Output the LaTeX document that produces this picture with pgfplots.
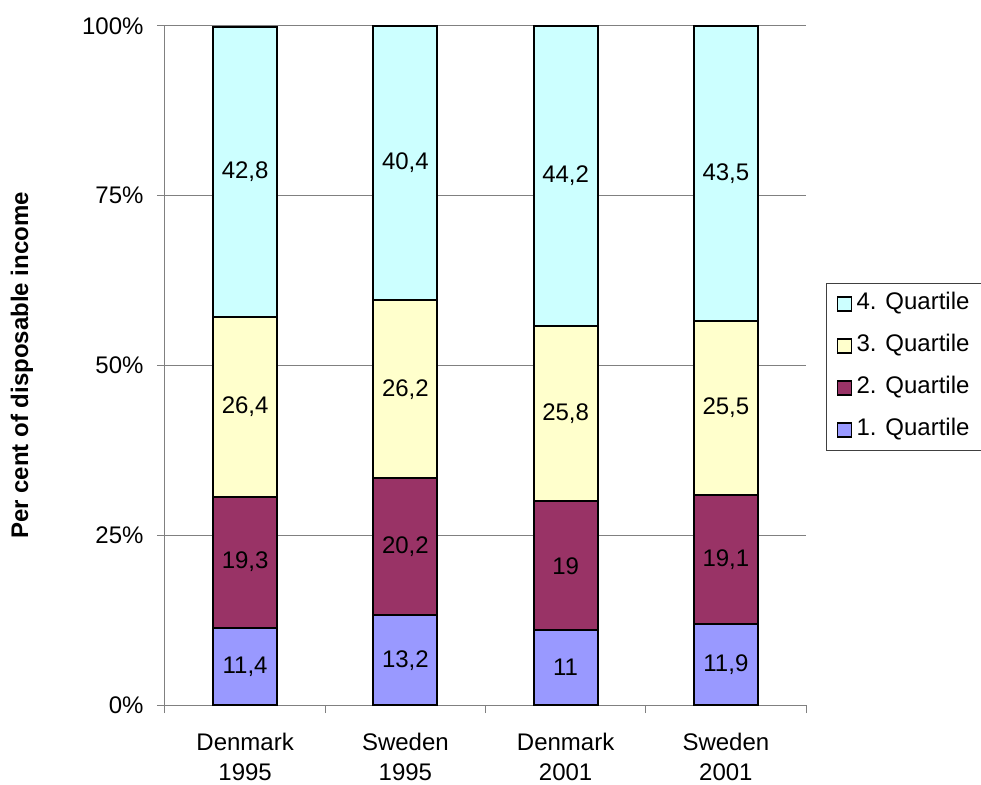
\documentclass[border=0pt]{standalone}
\usepackage{fontspec}
\setmainfont{Liberation Sans}
\usepackage{pgfplots}
\usepackage{pgfplotstable}
\pgfplotsset{compat=1.18}

\definecolor{qone}{HTML}{9999FF}
\definecolor{qtwo}{HTML}{993366}
\definecolor{qthree}{HTML}{FFFFCC}
\definecolor{qfour}{HTML}{CCFFFF}

% shares of disposable income by quartile
\pgfplotstableread{
x q1   q2   q3   q4
0 11.4 19.3 26.4 42.8
1 13.2 20.2 26.2 40.4
2 11.0 19.0 25.8 44.2
3 11.9 19.1 25.5 43.5
}\data

\tikzset{big/.style={font=\fontsize{24bp}{30bp}\selectfont}}
\pgfplotsset{
    frame/.style={scale only axis, width=641bp, height=679bp,
        at={(0,0)}, anchor=south west,
        xmin=-0.5, xmax=3.5, ymin=0, ymax=100},
}

\begin{document}
\begin{tikzpicture}
\begin{axis}[
    frame,
    ybar stacked,
    bar width=64bp,
    xtick={0,1,2,3},
    xticklabels={{Denmark\\1995},{Sweden\\1995},{Denmark\\2001},{Sweden\\2001}},
    x tick label style={align=center, big, yshift=-17bp},
    major x tick style={draw=none},
    minor xtick={-0.5,0.5,1.5,2.5,3.5},
    ytick={0,25,50,75,100},
    yticklabel={\pgfmathprintnumber{\tick}\%},
    y tick label style={big, xshift=-10bp},
    /pgf/number format/assume math mode=true,
    ymajorgrids,
    grid style={draw=gray, line width=1bp},
    axis x line*=bottom, axis y line*=left,
    axis line style={draw=gray, line width=1bp, -},
    tick align=outside,
    tick style={draw=gray, line width=1bp},
    major tick length=8bp, minor tick length=8bp,
    every axis y label/.style={at={(axis description cs:0,0.5)}, xshift=-143bp,
        rotate=90, anchor=center, font=\fontsize{24bp}{29bp}\selectfont\bfseries},
    ylabel={Per cent of disposable income},
    reverse legend,
    legend cell align=left,
    legend style={at={(axis description cs:1.0312,0.6215)}, anchor=north west,
        draw=darkgray, line width=1bp, inner xsep=10bp, inner ysep=8bp, row sep=17bp,
        big, nodes={inner xsep=4.5bp, inner ysep=1.5bp, text height=17bp, text depth=5bp}},
    legend image code/.code={\draw[#1, draw=black, line width=1.5bp] (0bp,-7bp) rectangle (14bp,7bp);},
]
\addplot[fill=qone, draw=black, line width=2bp] table[x=x, y=q1] {\data};
\addplot[fill=qtwo, draw=black, line width=2bp] table[x=x, y=q2] {\data};
\addplot[fill=qthree, draw=black, line width=2bp] table[x=x, y=q3] {\data};
\addplot[fill=qfour, draw=black, line width=2bp] table[x=x, y=q4] {\data};
\legend{1. Quartile, 2. Quartile, 3. Quartile, 4. Quartile}
\end{axis}
% value labels, centred in each segment
\begin{axis}[
    frame, hide axis,
    point meta=explicit,
    /pgf/number format/.cd, use comma, precision=1, assume math mode=true, /pgfplots/.cd,
    nodes near coords,
    every node near coord/.append style={anchor=center, big},
]
\addplot[draw=none, mark=none, nodes near coords] table[x=x, y expr=\thisrow{q1}/2, meta=q1] {\data};
\addplot[draw=none, mark=none, nodes near coords] table[x=x, y expr=\thisrow{q1}+\thisrow{q2}/2, meta=q2] {\data};
\addplot[draw=none, mark=none, nodes near coords] table[x=x, y expr=\thisrow{q1}+\thisrow{q2}+\thisrow{q3}/2, meta=q3] {\data};
\addplot[draw=none, mark=none, nodes near coords] table[x=x, y expr=\thisrow{q1}+\thisrow{q2}+\thisrow{q3}+\thisrow{q4}/2, meta=q4] {\data};
\end{axis}
\pgfresetboundingbox
\useasboundingbox (-165bp,-80bp) rectangle (816bp,705bp);
\end{tikzpicture}
\end{document}
